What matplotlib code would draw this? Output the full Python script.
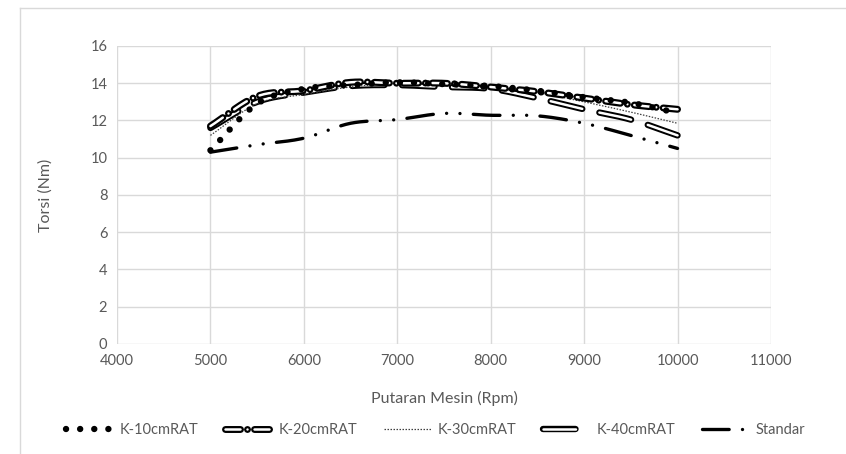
import numpy as np
import matplotlib
matplotlib.use("Agg")
import matplotlib.pyplot as plt
import matplotlib.patheffects as pe
from matplotlib.lines import Line2D

# values (torque in Nm at each engine speed)
rpm = [5000, 5500, 6000, 6500, 7000, 7500, 8000, 8500, 9000, 9500, 10000]
k10 = [10.4, 12.9, 13.7, 13.9, 14.05, 13.95, 13.85, 13.6, 13.25, 12.95, 12.4]
k20 = [11.7, 13.3, 13.6, 14.05, 14.0, 14.0, 13.8, 13.55, 13.2, 12.85, 12.6]
k30 = [11.2, 12.9, 13.4, 13.8, 14.0, 13.95, 13.8, 13.5, 13.0, 12.45, 11.85]
k40 = [11.6, 13.0, 13.5, 13.85, 13.9, 13.8, 13.7, 13.2, 12.6, 12.05, 11.2]
standar = [10.3, 10.7, 11.05, 11.85, 12.05, 12.38, 12.28, 12.25, 11.85, 11.2, 10.5]

labels = ["K-10cmRAT", "K-20cmRAT", "K-30cmRAT", "K-40cmRAT", "Standar"]
xticks = [4000, 5000, 6000, 7000, 8000, 9000, 10000, 11000]
yticks = [0, 2, 4, 6, 8, 10, 12, 14, 16]

plt.rcParams['font.family'] = ['Lato', 'DejaVu Sans']


def smooth(x, y, n=20):
    # catmull-rom curve through the points, like excel's "smoothed line"
    x = np.asarray(x, float)
    y = np.asarray(y, float)
    px = np.concatenate([[2 * x[0] - x[1]], x, [2 * x[-1] - x[-2]]])
    py = np.concatenate([[2 * y[0] - y[1]], y, [2 * y[-1] - y[-2]]])
    xs, ys = [], []
    t = np.linspace(0, 1, n, endpoint=False)
    for i in range(1, len(px) - 2):
        for p, out in ((px, xs), (py, ys)):
            p0, p1, p2, p3 = p[i - 1], p[i], p[i + 1], p[i + 2]
            out.extend(0.5 * (2 * p1 + (-p0 + p2) * t
                              + (2 * p0 - 5 * p1 + 4 * p2 - p3) * t ** 2
                              + (-p0 + 3 * p1 - 3 * p2 + p3) * t ** 3))
    xs.append(x[-1])
    ys.append(y[-1])
    return np.array(xs), np.array(ys)


def outlined(lw):
    return [pe.Stroke(linewidth=lw, foreground='black'), pe.Normal()]


fig = plt.figure(figsize=(8.46, 4.54), dpi=100)
ax = fig.add_axes([0.1383, 0.2423, 0.773, 0.6564])

styles = [
    dict(color='black', lw=4.6, linestyle=(0, (0.01, 2.2)), dash_capstyle='round'),
    dict(color='white', lw=1.8, linestyle=(0, (6, 2.8, 0.01, 2.8)), dash_capstyle='round',
         path_effects=outlined(5.0)),
    dict(color='#404040', lw=0.9, linestyle=(0, (1.2, 1.2))),
    dict(color='white', lw=1.8, linestyle=(0, (13, 7)), dash_capstyle='round',
         path_effects=outlined(4.6)),
    dict(color='black', lw=2.4, linestyle=(0, (8, 4, 0.01, 4, 0.01, 4)), dash_capstyle='round'),
]
zorders = [6, 5, 4, 3, 2]

for data, st, z in zip([k10, k20, k30, k40, standar], styles, zorders):
    sx, sy = smooth(rpm, data)
    ax.plot(sx, sy, solid_capstyle='round', zorder=z, **st)

ax.set_xlim(4000, 11000)
ax.set_ylim(0, 16)
ax.set_xticks(xticks)
ax.set_yticks(yticks)
ax.grid(True, color='#d9d9d9', linewidth=1)
ax.set_axisbelow(True)
for s in ax.spines.values():
    s.set_visible(False)
ax.tick_params(length=0, labelsize=10.5, colors='#595959', pad=7)
ax.set_xlabel("Putaran Mesin (Rpm)", fontsize=11.5, color='#595959', labelpad=17)
ax.set_ylabel("Torsi (Nm)", fontsize=11.5, color='#595959', labelpad=27)

handles = [Line2D([0], [0], **st) for st in styles]
fig.legend(handles, labels, loc='center', bbox_to_anchor=(0.515, 0.052), ncol=5,
           frameon=False, fontsize=10.5, handlelength=3.2, handletextpad=0.5,
           columnspacing=1.8, labelcolor='#595959')

# chart area border (left and top visible in the crop)
fig.add_artist(Line2D([0.024, 0.024], [0, 0.982], color='#d9d9d9', lw=1))
fig.add_artist(Line2D([0.024, 1.0], [0.982, 0.982], color='#d9d9d9', lw=1))

fig.savefig("out.png", dpi=100)
